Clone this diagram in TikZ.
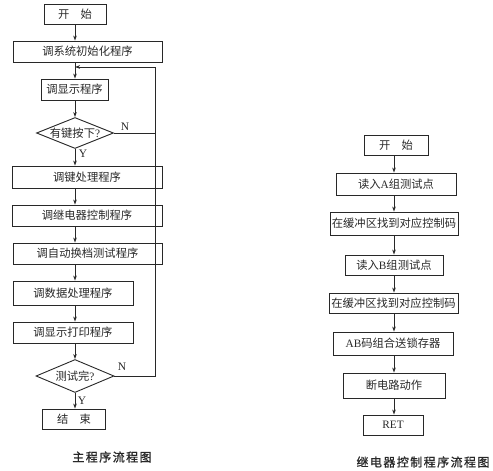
\documentclass[tikz,border=0pt]{standalone}
\usepackage{fontspec}
\setmainfont{Noto Sans CJK SC}
\newfontfamily\lat{Liberation Serif}
\newfontfamily\capfont[LetterSpace=12,FakeBold=1.2]{Noto Sans CJK SC}
\usetikzlibrary{shapes.geometric,arrows.meta}
\definecolor{FlowInk}{RGB}{40,40,40}

\begin{document}
\begin{tikzpicture}[x=1pt,y=-1pt,
  box/.style={draw=FlowInk,line width=0.9pt,inner sep=0pt,
              font=\fontsize{11.3}{13}\selectfont,text=FlowInk},
  dia/.style={draw=FlowInk,line width=0.9pt,diamond,aspect=2.5,inner sep=0pt,
              font=\fontsize{11.3}{13}\selectfont,text=FlowInk},
  arr/.style={-{Stealth[length=5pt,width=3.6pt]},line width=0.9pt,FlowInk},
  lab/.style={font=\lat\fontsize{11.5}{13}\selectfont,text=FlowInk},
  caption/.style={font=\capfont\fontsize{12}{14}\selectfont,text=FlowInk},
]
\useasboundingbox (0,0) rectangle (493,471);
% main program
\coordinate (sp) at (75,0);
\coordinate (loop) at (75,67);
\coordinate (rail) at (155,67);
\node[box,minimum width=62,minimum height=20] (start) at (75,14) {开\hspace{1em}始};
\node[box,minimum width=149,minimum height=21] (init) at (87.5,51.5) {调系统初始化程序};
\node[box,minimum width=67,minimum height=21] (disp) at (74.5,89.5) {调显示程序};
\node[dia,minimum width=77,minimum height=31] (key) at (75,133) {有键按下{\lat ?}};
\node[box,minimum width=150,minimum height=22] (keyproc) at (87,177) {调键处理程序};
\node[box,minimum width=150,minimum height=21] (relay) at (87,215.5) {调继电器控制程序};
\node[box,minimum width=149,minimum height=21] (auto) at (87.5,253.5) {调自动换档测试程序};
\node[box,minimum width=120,minimum height=24] (data) at (73,293) {调数据处理程序};
\node[box,minimum width=120,minimum height=21] (print) at (73,332.5) {调显示打印程序};
\node[dia,minimum width=78,minimum height=33] (done) at (75,376) {测试完{\lat ?}};
\node[box,minimum width=63,minimum height=20] (stop) at (74,419) {结\hspace{1em}束};
\node[lab] (n1) at (125,127) {N};
\node[lab] (y1) at (83,154) {Y};
\node[lab] (n2) at (122,367) {N};
\node[lab] (y2) at (82,401) {Y};
\node[caption] (cap1) at (112,457) {主程序流程图};
\draw[arr] (start.south -| sp) -- (init.north -| sp);
\draw[arr] (init.south -| sp) -- (disp.north -| sp);
\draw[arr] (disp.south -| sp) -- (key.north);
\draw[arr] (key.south) -- (keyproc.north -| sp);
\draw[arr] (keyproc.south -| sp) -- (relay.north -| sp);
\draw[arr] (relay.south -| sp) -- (auto.north -| sp);
\draw[arr] (auto.south -| sp) -- (data.north -| sp);
\draw[arr] (data.south -| sp) -- (print.north -| sp);
\draw[arr] (print.south -| sp) -- (done.north);
\draw[arr] (done.south) -- (stop.north -| done.south);
\draw[line width=0.9pt,FlowInk] (key.east) -- (key.east -| rail);
\draw[arr] (done.east) -| (rail) -- (loop);
% relay control subroutine
\coordinate (rsp) at (394,0);
\node[box,minimum width=64,minimum height=20] (rstart) at (396,145) {开\hspace{1em}始};
\node[box,minimum width=120,minimum height=22] (reada) at (396,184) {读入{\lat A}组测试点};
\node[box,minimum width=128,minimum height=23] (bufa) at (394,223.5) {在缓冲区找到对应控制码};
\node[box,minimum width=98,minimum height=20] (readb) at (394,265) {读入{\lat B}组测试点};
\node[box,minimum width=129,minimum height=20] (bufb) at (393.5,303) {在缓冲区找到对应控制码};
\node[box,minimum width=120,minimum height=23] (latch) at (393,343.5) {{\lat AB}码组合送锁存器};
\node[box,minimum width=102,minimum height=25] (cut) at (394,385.5) {断电路动作};
\node[box,minimum width=60,minimum height=20] (ret) at (393,425) {\lat RET};
\node[caption] (cap2) at (423,462) {继电器控制程序流程图};
\draw[arr] (rstart.south -| rsp) -- (reada.north -| rsp);
\draw[arr] (reada.south -| rsp) -- (bufa.north -| rsp);
\draw[arr] (bufa.south -| rsp) -- (readb.north -| rsp);
\draw[arr] (readb.south -| rsp) -- (bufb.north -| rsp);
\draw[arr] (bufb.south -| rsp) -- (latch.north -| rsp);
\draw[arr] (latch.south -| rsp) -- (cut.north -| rsp);
\draw[arr] (cut.south -| rsp) -- (ret.north -| rsp);
\end{tikzpicture}
\end{document}
